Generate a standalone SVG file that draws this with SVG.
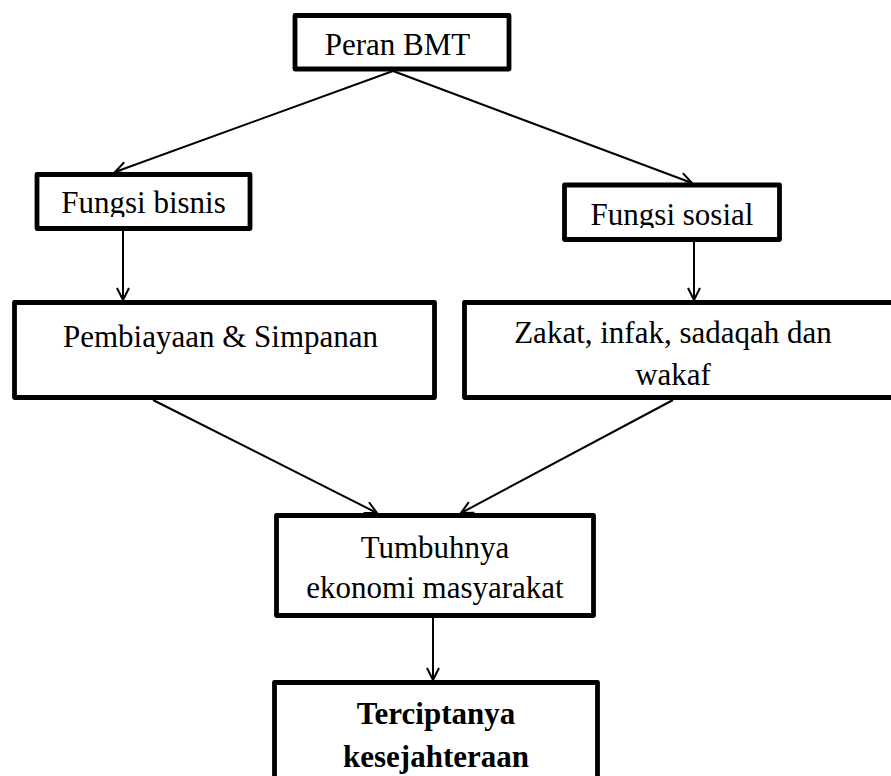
<svg xmlns="http://www.w3.org/2000/svg" width="891" height="776" viewBox="0 0 891 776">
<defs>
<style>
.box{fill:#fff;stroke:#000;stroke-width:4.8;stroke-linejoin:round}
.t{font-family:"Liberation Serif","Times New Roman",serif;font-size:31px;fill:#000;text-anchor:middle}
.b{font-weight:bold}
.c{fill:none;stroke:#000;stroke-width:2;marker-end:url(#ah)}
</style>
<marker id="ah" markerUnits="userSpaceOnUse" markerWidth="16" markerHeight="16" refX="13" refY="7" orient="auto" viewBox="0 0 16 14">
<path d="M1,1 L13,7 L1,13" fill="none" stroke="#000" stroke-width="2"/>
</marker>
<clipPath id="cb"><rect x="30" y="170" width="230" height="47"/></clipPath>
<clipPath id="cs"><rect x="560" y="180" width="230" height="48"/></clipPath>
</defs>
<g id="connectors">
<line class="c" x1="393" y1="71" x2="115" y2="172"/>
<line class="c" x1="393" y1="71" x2="692" y2="183"/>
<line class="c" x1="123" y1="231" x2="123" y2="300"/>
<line class="c" x1="694" y1="242" x2="694" y2="300"/>
<line class="c" x1="153" y1="400" x2="377" y2="513"/>
<line class="c" x1="673" y1="400" x2="461" y2="513"/>
<line class="c" x1="433" y1="618" x2="433" y2="680"/>
</g>
<g id="peran">
<rect class="box" x="295" y="15.5" width="214" height="53.5"/>
<text class="t" x="397.5" y="55">Peran BMT</text>
</g>
<g id="bisnis">
<rect class="box" x="37" y="174.5" width="213" height="54"/>
<text class="t" x="143.5" y="213" clip-path="url(#cb)">Fungsi bisnis</text>
</g>
<g id="sosial">
<rect class="box" x="564.5" y="185" width="215" height="54.5"/>
<text class="t" x="672" y="225" clip-path="url(#cs)">Fungsi sosial</text>
</g>
<g id="pembiayaan">
<rect class="box" x="14.5" y="302.5" width="420" height="95"/>
<text class="t" x="220.5" y="346.5">Pembiayaan &amp; Simpanan</text>
</g>
<g id="zakat">
<rect class="box" x="464.5" y="302.5" width="440" height="95"/>
<text class="t" x="673" y="343">Zakat, infak, sadaqah dan</text>
<text class="t" x="673" y="385">wakaf</text>
</g>
<g id="tumbuhnya">
<rect class="box" x="276.5" y="515.5" width="317" height="100"/>
<text class="t" x="435" y="558">Tumbuhnya</text>
<text class="t" x="435" y="598">ekonomi masyarakat</text>
</g>
<g id="terciptanya">
<rect class="box" x="274.5" y="682.5" width="323" height="120"/>
<text class="t b" x="436" y="724">Terciptanya</text>
<text class="t b" x="436" y="767">kesejahteraan</text>
</g>
</svg>
